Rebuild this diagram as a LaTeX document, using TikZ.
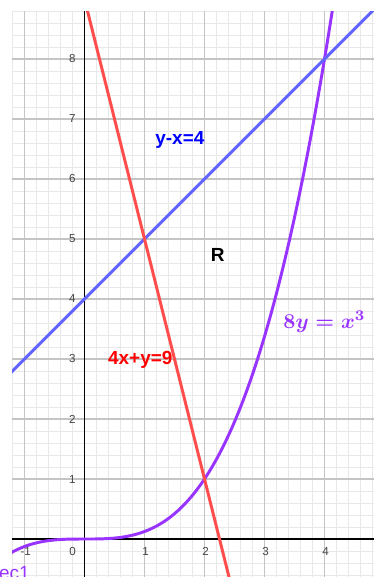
\documentclass[tikz,border=0pt]{standalone}
\usepackage{fontspec}
\setmainfont{Liberation Sans}
\definecolor{ggred}{HTML}{FF4C4C}
\definecolor{ggblue}{HTML}{6464FF}
\definecolor{ggpurple}{HTML}{9933FF}
\definecolor{minorgray}{HTML}{E8E8E8}
\definecolor{majorgray}{HTML}{C4C4C4}
\definecolor{ticklab}{HTML}{444444}
\tikzset{
  minorgrid/.style={draw=minorgray, line width=0.35pt},
  majorgrid/.style={draw=majorgray, line width=0.5pt},
  axisline/.style={draw=black, line width=0.5pt},
  graphline/.style={line width=1.4pt, line cap=round},
  ticklabel/.style={text=ticklab, font=\fontsize{5.5}{6}\selectfont, inner sep=0pt},
  eqlabel/.style={font=\fontsize{9}{10}\selectfont\bfseries, inner sep=0pt},
  mathlabel/.style={text=ggpurple, inner sep=0pt, font=\fontsize{10}{12}\selectfont\boldmath}
}
\begin{document}
\begin{tikzpicture}[x=1cm,y=1cm]
\useasboundingbox (-1.408,-0.633) rectangle (4.825,8.983);
\fill[white] (-1.408,-0.633) rectangle (4.825,8.983);
\begin{scope}
  \clip (-1.208,-0.633) rectangle (4.825,8.783);
  \draw[minorgrid] (-1.4,-0.8) grid[step=0.2] (5,9);
  \draw[majorgrid] (-2,-1) grid[step=1] (5,9);
  \draw[axisline] (-1.3,0) -- (5,0);
  \draw[axisline] (0,-0.8) -- (0,9);
  \draw[graphline, ggpurple] plot[domain=-1.3:4.2, samples=160, smooth] (\x, {\x*\x*\x/8});
  \draw[graphline, ggblue] (-1.3,2.7) -- (5,9);
  \draw[graphline, ggred] (0,9) -- (2.5,-1);
\end{scope}
\foreach \i/\n in {-1/m1,1/p1,2/p2,3/p3,4/p4}
  \node[ticklabel] (x\n) at (\i+0.02,-0.21) {\i};
\node[ticklabel] (x0) at (-0.2,-0.21) {0};
\foreach \j in {1,...,8}
  \node[ticklabel, anchor=east] (y\j) at (-0.14,\j) {\j};
\node[eqlabel, text=blue] (lblue) at (1.59,6.65) {y-x=4};
\node[eqlabel, text=black] (lR) at (2.22,4.74) {R};
\node[eqlabel, text=red] (lred) at (0.93,2.98) {4x+y=9};
\node[mathlabel] (lpurple) at (4.0,3.62) {\(8y=x^{3}\)};
\node[text=ggpurple, inner sep=0pt, anchor=west, font=\fontsize{9}{10}\selectfont] (lec) at (-1.43,-0.56) {ec1};
\end{tikzpicture}
\end{document}
